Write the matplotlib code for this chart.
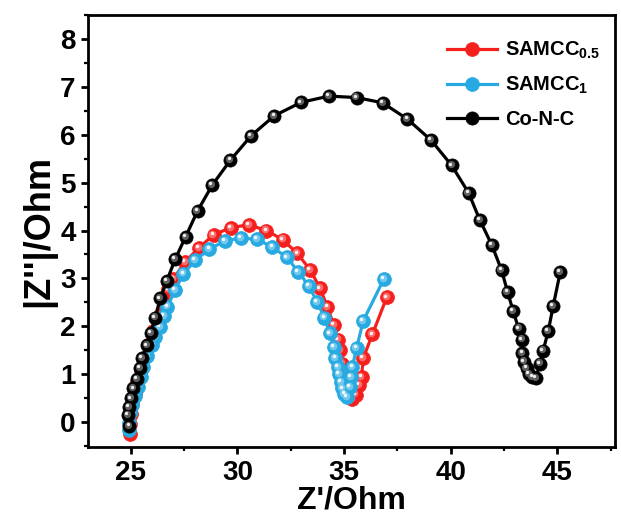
import numpy as np
import matplotlib.pyplot as plt
from matplotlib.transforms import offset_copy
from matplotlib.colors import to_rgb
from matplotlib.ticker import MultipleLocator

plt.rcParams['font.family'] = 'Liberation Sans'
plt.rcParams['font.weight'] = 'bold'
plt.rcParams['mathtext.fontset'] = 'custom'
plt.rcParams['mathtext.rm'] = 'Liberation Sans:bold'
plt.rcParams['mathtext.it'] = 'Liberation Sans:bold'
plt.rcParams['mathtext.bf'] = 'Liberation Sans:bold'

# Nyquist data (Z' and |Z''| in Ohm)
z_re_05 = [24.97, 24.94, 24.99, 25.06, 25.18, 25.30, 25.46, 25.63, 25.81, 26.02,
           26.26, 26.53, 26.75, 27.00, 27.55, 28.18, 28.88, 29.69, 30.53, 31.36,
           32.12, 32.81, 33.41, 33.88, 34.22, 34.52, 34.71, 34.80, 34.92, 35.02,
           35.15, 35.27, 35.39, 35.54, 35.70, 35.82, 35.90, 36.33, 37.00]
z_im_05 = [-0.25, -0.05, 0.16, 0.37, 0.60, 0.83, 1.08, 1.33, 1.60, 1.90,
           2.19, 2.55, 2.77, 2.99, 3.35, 3.63, 3.91, 4.06, 4.12, 4.00,
           3.81, 3.52, 3.18, 2.79, 2.40, 2.02, 1.72, 1.50, 1.22, 1.01,
           0.80, 0.63, 0.48, 0.57, 0.77, 0.94, 1.33, 1.83, 2.60]

z_re_1 = [24.93, 24.93, 24.98, 25.05, 25.20, 25.34, 25.48, 25.59, 25.77, 25.99,
          26.14, 26.38, 26.54, 26.72, 27.08, 27.47, 28.02, 28.69, 29.40, 30.15,
          30.92, 31.64, 32.32, 32.85, 33.35, 33.74, 34.08, 34.33, 34.52, 34.60,
          34.71, 34.77, 34.84, 34.92, 35.02, 35.15, 35.27, 35.34, 35.39, 35.59,
          35.90, 36.87]
z_im_1 = [-0.17, -0.03, 0.18, 0.35, 0.54, 0.73, 0.94, 1.14, 1.37, 1.60,
          1.78, 1.99, 2.21, 2.41, 2.76, 3.10, 3.38, 3.61, 3.78, 3.84,
          3.82, 3.65, 3.44, 3.14, 2.84, 2.51, 2.18, 1.85, 1.57, 1.33,
          1.15, 1.00, 0.84, 0.70, 0.59, 0.52, 0.73, 0.94, 1.15, 1.54,
          2.11, 2.99]

z_re_conc = [24.93, 24.86, 24.92, 25.01, 25.12, 25.28, 25.44, 25.52, 25.75, 25.94,
             26.14, 26.38, 26.69, 27.08, 27.57, 28.13, 28.82, 29.67, 30.64, 31.73,
             32.99, 34.29, 35.59, 36.81, 37.97, 39.08, 40.05, 40.84, 41.37, 41.93,
             42.39, 42.67, 42.93, 43.19, 43.34, 43.37, 43.45, 43.56, 43.68, 43.84,
             44.00, 44.19, 44.34, 44.58, 44.81, 45.14]
z_im_conc = [-0.09, 0.14, 0.31, 0.49, 0.70, 0.89, 1.12, 1.33, 1.60, 1.86,
             2.18, 2.58, 2.95, 3.40, 3.87, 4.41, 4.95, 5.47, 5.98, 6.40,
             6.68, 6.81, 6.78, 6.67, 6.33, 5.89, 5.36, 4.79, 4.22, 3.70,
             3.17, 2.72, 2.32, 1.95, 1.72, 1.44, 1.26, 1.12, 1.00, 0.94,
             0.92, 1.22, 1.49, 1.90, 2.42, 3.13]

series = [
    (z_re_05, z_im_05, '#f5201e', r'SAMCC$_{0.5}$', 10),
    (z_re_1, z_im_1, '#27a9e1', r'SAMCC$_{1}$', 10),
    (z_re_conc, z_im_conc, '#000000', 'Co-N-C', 9.5),
]


def lighten(c, f):
    r, g, b = to_rgb(c)
    return (r + (1 - r) * f, g + (1 - g) * f, b + (1 - b) * f)


fig = plt.figure(figsize=(6.21, 5.28), dpi=100)
ax = fig.add_axes([0.142, 0.153, 0.848, 0.819])

for i, (x, y, c, lab, ms) in enumerate(series):
    z = 3 + i * 3
    ax.plot(x, y, '-o', color=c, lw=2.3, ms=ms, mec=c, mew=0.5,
            label=lab, zorder=z)
    # shaded "ball" look: lighter core and a white glint, shifted up-left
    shade = c if c != '#000000' else '#2a2a2a'
    tr1 = offset_copy(ax.transData, fig=fig, x=-0.8, y=0.8, units='points')
    ax.plot(x, y, 'o', ls='none', ms=ms * 0.55,
            color=lighten(shade, 0.35 if i < 2 else 0.25),
            mew=0, transform=tr1, zorder=z + 0.5)
    tr2 = offset_copy(ax.transData, fig=fig, x=-1.3, y=1.3, units='points')
    ax.plot(x, y, 'o', ls='none', ms=ms * 0.25, color='white', mew=0,
            alpha=0.9, transform=tr2, zorder=z + 0.8)

ax.set_xlim(23, 47.7)
ax.set_ylim(-0.53, 8.51)
ax.xaxis.set_major_locator(MultipleLocator(5))
ax.xaxis.set_minor_locator(MultipleLocator(2.5))
ax.yaxis.set_major_locator(MultipleLocator(1))
ax.yaxis.set_minor_locator(MultipleLocator(0.5))

for s in ax.spines.values():
    s.set_linewidth(2.0)
ax.tick_params(which='major', direction='out', length=5, width=2.0,
               labelsize=20, pad=4)
ax.tick_params(which='minor', direction='out', length=3, width=1.6)
for t in ax.get_xticklabels() + ax.get_yticklabels():
    t.set_fontweight('bold')

ax.set_xlabel("Z'/Ohm", fontsize=23, fontweight='bold', labelpad=0)
ax.set_ylabel("|Z''|/Ohm", fontsize=26, fontweight='bold', labelpad=3)

leg = ax.legend(loc='upper right', bbox_to_anchor=(1.0, 0.975),
                frameon=False, fontsize=14.5,
                handlelength=2.5, handletextpad=0.4, labelspacing=0.7,
                borderaxespad=0.3)
for t in leg.get_texts():
    t.set_fontweight('bold')

fig.savefig('out.png', dpi=100)
